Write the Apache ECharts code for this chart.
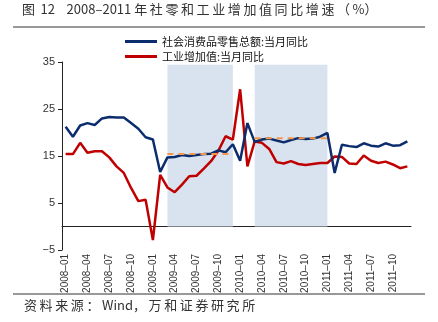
<!DOCTYPE html>
<html>
<head>
<meta charset="utf-8">
<script src="https://cdn.jsdelivr.net/npm/echarts@6/dist/echarts.min.js"></script>
<style>
html,body{margin:0;padding:0;background:#fff;}
#chart{width:438px;height:322px;}
</style>
</head>
<body>
<div id="chart"></div>
<script>
var categories = [
  '2008-01','2008-02','2008-03','2008-04','2008-05','2008-06','2008-07','2008-08','2008-09','2008-10','2008-11','2008-12',
  '2009-01','2009-02','2009-03','2009-04','2009-05','2009-06','2009-07','2009-08','2009-09','2009-10','2009-11','2009-12',
  '2010-01','2010-02','2010-03','2010-04','2010-05','2010-06','2010-07','2010-08','2010-09','2010-10','2010-11','2010-12',
  '2011-01','2011-02','2011-03','2011-04','2011-05','2011-06','2011-07','2011-08','2011-09','2011-10','2011-11','2011-12'
];
var retailSales = [
  21.2,19.1,21.5,22.0,21.6,23.0,23.3,23.2,23.2,22.0,20.8,19.0,
  18.5,11.6,14.7,14.8,15.2,15.0,15.2,15.4,15.5,16.2,15.8,17.5,
  14.0,22.0,18.0,18.5,18.7,18.3,17.9,18.4,18.8,18.6,18.7,19.1,
  19.9,11.4,17.4,17.1,16.9,17.7,17.2,17.0,17.7,17.2,17.3,18.1
];
var industrial = [
  15.4,15.4,17.8,15.7,16.0,16.0,14.7,12.8,11.4,8.2,5.4,5.7,
  -2.9,11.0,8.3,7.3,8.9,10.7,10.8,12.3,13.9,16.1,19.2,18.5,
  29.2,12.8,18.1,17.8,16.5,13.7,13.4,13.9,13.3,13.1,13.3,13.5,
  13.5,14.9,14.8,13.4,13.3,15.1,14.0,13.5,13.8,13.2,12.4,12.8
];
// period averages of retail sales (orange dashed reference lines)
var avgPeriods = [
  {from:'2009-03', to:'2009-12', value:15.4},
  {from:'2010-03', to:'2011-01', value:18.8}
];
var shadedPeriods = [['2009-03','2009-12'],['2010-03','2011-01']];
var yTicks = {min:-5, max:35, interval:10};
var seriesNames = ['社会消费品零售总额:当月同比','工业增加值:当月同比'];
var titleText = '图 12    2008–2011 年社零和工业增加值同比增速（%）';
var sourceText = '资料来源：Wind，万和证券研究所';

function spaced(s){
  // add thin spaces after CJK / full-width characters to mimic the wide Song-style pitch
  var out = '';
  for (var i=0;i<s.length;i++){
    var ch = s[i];
    if (ch === ' ') { out += '\u00a0'; continue; }
    out += ch;
    if (/[\u3000-\u9fff\uff00-\uffef]/.test(ch)) out += '\u2009';
  }
  return out;
}

var avgData = categories.map(function(c){ return null; });
avgPeriods.forEach(function(p){
  var a = categories.indexOf(p.from), b = categories.indexOf(p.to);
  for (var i=a;i<=b;i++) avgData[i] = p.value;
});

var chart = echarts.init(document.getElementById('chart'), null, {renderer:'canvas'});
var cjk = '"Noto Sans CJK SC", "Liberation Sans", sans-serif';
chart.setOption({
  animation:false,
  backgroundColor:'#fff',
  grid:{left:62, right:27, top:62, bottom:72, containLabel:false},
  legend:{
    orient:'vertical', left:120, top:31, itemGap:4,
    icon:'rect', itemWidth:32, itemHeight:3,
    textStyle:{fontFamily:cjk, fontSize:11, color:'#111'},
    data:seriesNames
  },
  xAxis:{
    type:'category', data:categories, boundaryGap:true,
    axisLine:{onZero:true, lineStyle:{color:'#222', width:1}},
    axisTick:{alignWithLabel:true, interval:2, length:4, lineStyle:{color:'#222'}},
    axisLabel:{interval:2, rotate:90, fontSize:10, color:'#333', margin:4,
      fontFamily:'"Liberation Sans", Arial, sans-serif',
      formatter:function(v){return v.replace('-','\u2013');}},
    splitLine:{show:false}
  },
  yAxis:{
    type:'value', min:yTicks.min, max:yTicks.max, interval:yTicks.interval,
    axisLine:{show:true, lineStyle:{color:'#222', width:1}},
    axisTick:{show:true, length:4, lineStyle:{color:'#222'}},
    axisLabel:{fontSize:11, color:'#333', margin:7, fontFamily:'"Liberation Sans", Arial, sans-serif',
      formatter:function(v){return String(v).replace('-','\u2212');}},
    splitLine:{show:false}
  },
  graphic:[
    {type:'text', left:22, top:3, style:{text:spaced(titleText), fontFamily:cjk, fontSize:13, fill:'#333'}},
    {type:'line', shape:{x1:13, y1:27, x2:425, y2:27}, style:{stroke:'#333', lineWidth:1}},
    {type:'line', shape:{x1:13, y1:294, x2:425, y2:294}, style:{stroke:'#333', lineWidth:1}},
    {type:'text', left:24, top:299, style:{text:spaced(sourceText), fontFamily:cjk, fontSize:13, fill:'#333'}}
  ],
  series:[
    {
      name:seriesNames[0], type:'line', data:retailSales, symbol:'none', z:4,
      lineStyle:{color:'#0b2d6d', width:2.5}, itemStyle:{color:'#0b2d6d'},
      markArea:{silent:true, itemStyle:{color:'#d8e3ef'},
        data:shadedPeriods.map(function(p){return [{xAxis:p[0], yAxis:34.4},{xAxis:p[1], yAxis:0}];})}
    },
    {
      name:seriesNames[1], type:'line', data:industrial, symbol:'none', z:3,
      lineStyle:{color:'#c00000', width:2.5}, itemStyle:{color:'#c00000'}
    },
    {
      name:'avg', type:'line', data:avgData, symbol:'none', connectNulls:false, z:5,
      lineStyle:{color:'#f79646', width:2, type:[6,5]}, itemStyle:{color:'#f79646'}
    }
  ]
});
</script>
</body>
</html>
